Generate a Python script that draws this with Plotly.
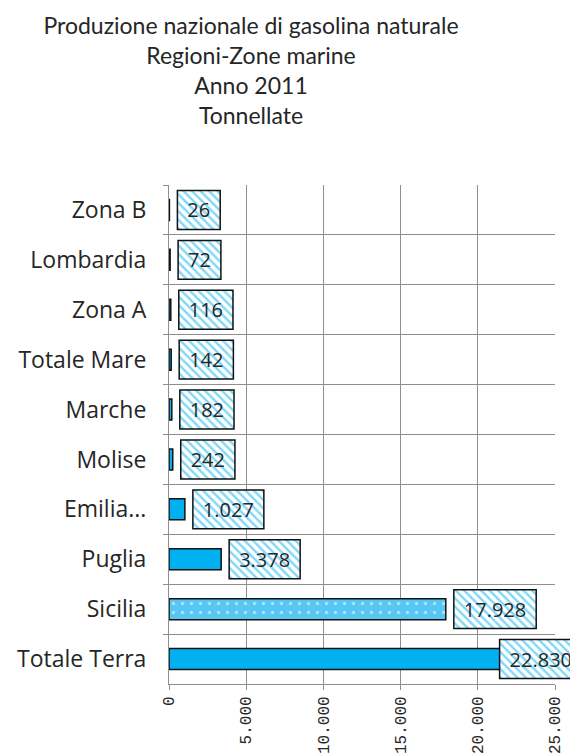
import plotly.graph_objects as go

# ---- data ----
categories = ["Zona B", "Lombardia", "Zona A", "Totale Mare", "Marche",
              "Molise", "Emilia...", "Puglia", "Sicilia", "Totale Terra"]
values = [26, 72, 116, 142, 182, 242, 1027, 3378, 17928, 22830]
x_tick_vals = [0, 5000, 10000, 15000, 20000, 25000]
title_lines = ["Produzione nazionale di gasolina naturale", "Regioni-Zone marine",
               "Anno 2011", "Tonnellate"]

# ---- style ----
BLUE = "#00B0F0"
GRID = "#8f8f8f"
TXT = "#262626"
PAGE_PAD = 8                  # default body margin of the html page
W, H = 578 - PAGE_PAD, 756 - PAGE_PAD
L, R, T, B = 169 - PAGE_PAD, 0, 185 - PAGE_PAD, 72
X_MAX = 25000
MAIN_PX = 386                 # pixel width of the 0..25000 axis
PLOT_PX = W - L - R           # full width available to the label layer
U = X_MAX / MAIN_PX           # data units per pixel

def fmt(v):
    return f"{v:,}".replace(",", ".")

labels = [fmt(v) for v in values]
box_w = [(11.4 * sum(c.isdigit() for c in s) + 5.4 * s.count(".") + 20) * U for s in labels]
gap = 8 * U
limit = (PLOT_PX + 4) * U
box_base = [min(v + gap, limit - w) for v, w in zip(values, box_w)]

shapes_pat = ["." if c == "Sicilia" else "" for c in categories]

fig = go.Figure()
fig.add_trace(go.Bar(
    y=categories, x=values, orientation="h", width=0.42,
    marker=dict(color=BLUE, line=dict(color="#111111", width=1.5),
                pattern=dict(shape=shapes_pat, fgcolor="white", bgcolor="#56C6F2",
                             size=9, solidity=0.12)),
    xaxis="x", yaxis="y", showlegend=False, hoverinfo="skip",
))
fig.add_trace(go.Bar(
    y=categories, x=box_w, base=box_base, orientation="h", width=0.78,
    customdata=values, text=labels, textposition="inside",
    insidetextanchor="middle", textangle=0, constraintext="none",
    textfont=dict(family="Open Sans", size=20, color=TXT),
    marker=dict(color="white", line=dict(color="#111111", width=1.5),
                pattern=dict(shape="\\", fgcolor=BLUE, bgcolor="white",
                             size=6, solidity=0.4)),
    xaxis="x2", yaxis="y2", showlegend=False, hoverinfo="skip", cliponaxis=True,
))

n = len(categories)
fig.update_layout(
    width=W, height=H,
    margin=dict(l=L, r=R, t=T, b=B, autoexpand=False),
    paper_bgcolor="white", plot_bgcolor="rgba(0,0,0,0)",
    separators=",.",
    barmode="overlay",
    title=dict(text="<br>".join(title_lines), x=(251 - PAGE_PAD) / W, xanchor="center",
               xref="container", y=1 - 26 / H, yref="container", yanchor="top",
               font=dict(family="Lato", size=23, color=TXT)),
    xaxis=dict(domain=[0, MAIN_PX / PLOT_PX], range=[0, X_MAX], tickvals=x_tick_vals,
               tickformat=",", tickangle=-90, showgrid=True, gridcolor=GRID, gridwidth=1,
               zeroline=False, showline=True, linecolor=GRID, linewidth=1,
               ticks="outside", ticklen=5, tickcolor=GRID, anchor="y", automargin=False,
               tickfont=dict(family="Liberation Mono", size=16, color=TXT)),
    yaxis=dict(type="category", categoryorder="array", categoryarray=categories,
               range=[n - 0.5, -0.5], tickson="boundaries", showgrid=True,
               gridcolor=GRID, gridwidth=1, showline=True, linecolor=GRID,
               ticks="outside", ticklen=5, tickcolor=GRID, anchor="x",
               ticklabelstandoff=17, automargin=False,
               tickfont=dict(family="Open Sans", size=23, color=TXT)),
    xaxis2=dict(domain=[0, 1], range=[0, PLOT_PX * U], visible=False, anchor="y2",
                automargin=False),
    yaxis2=dict(type="category", categoryorder="array", categoryarray=categories,
                range=[n - 0.5, -0.5], visible=False, anchor="x2", automargin=False),
)

fig.write_html("out.html")
